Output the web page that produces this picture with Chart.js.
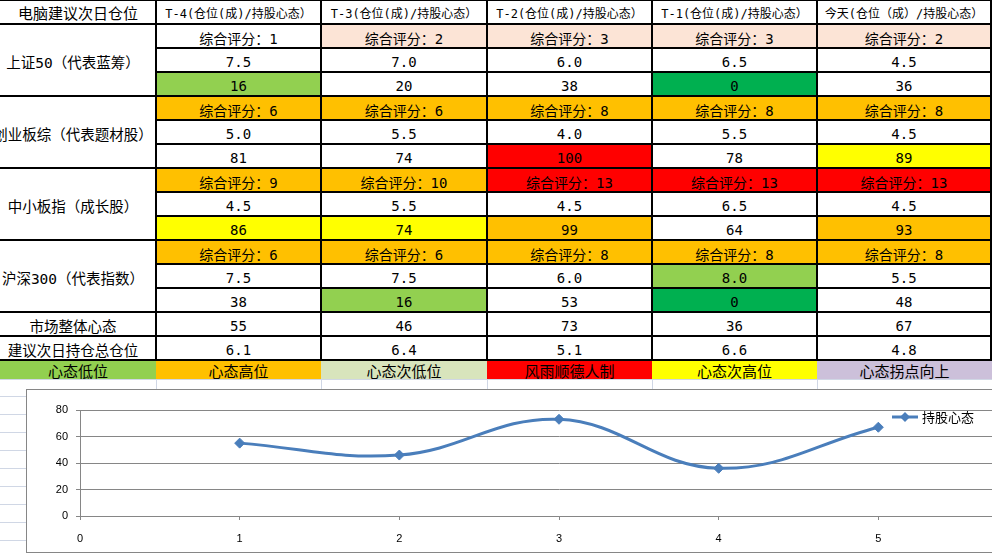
<!DOCTYPE html>
<html><head><meta charset="utf-8">
<script src="https://cdn.jsdelivr.net/npm/chart.js@4/dist/chart.umd.min.js"></script>
<style>
html,body{margin:0;padding:0;width:992px;height:553px;overflow:hidden;background:#fff;}
#sheet{position:absolute;left:0;top:0;width:992px;height:553px;overflow:hidden;}
.c{position:absolute;box-sizing:border-box;display:flex;align-items:center;justify-content:center;white-space:nowrap;overflow:hidden;
 font-family:"DejaVu Sans Mono","Noto Sans CJK SC",monospace;font-size:14px;color:#000;padding-top:3px;}
.hd{font-size:12px;padding-top:1px;}
.lab{font-size:14.5px;padding-right:10px;}
.lg{font-size:15px;padding-top:2px;}
.gl{position:absolute;background:#D0D7E5;}
.bl{position:absolute;background:#000;}
#chartBox{position:absolute;left:26px;top:389px;width:1100px;height:162px;border:1px solid #868686;border-right:none;background:#fff;}
#chartBox canvas{position:absolute;left:0;top:0;}
</style></head>
<body>
<div id="sheet"></div>
<div id="chartBox"><canvas id="cv" width="1023" height="162" style="width:1023px;height:162px"></canvas></div>
<script>
// ---- data ----
const cornerTitle='电脑建议次日仓位';
const columnHeaders=['T-4(仓位(成)/持股心态）','T-3(仓位(成)/持股心态）','T-2(仓位(成)/持股心态）','T-1(仓位(成)/持股心态）','今天(仓位（成）/持股心态）'];
const indexNames=['上证50（代表蓝筹）','创业板综（代表题材股）','中小板指（成长股）','沪深300（代表指数）'];
const scorePrefix='综合评分：';
const scores=[[1,2,3,3,2],[6,6,8,8,8],[9,10,13,13,13],[6,6,8,8,8]];
const positions=[['7.5','7.0','6.0','6.5','4.5'],['5.0','5.5','4.0','5.5','4.5'],['4.5','5.5','4.5','6.5','4.5'],['7.5','7.5','6.0','8.0','5.5']];
const moods=[[16,20,38,0,36],[81,74,100,78,89],[86,74,99,64,93],[38,16,53,0,48]];
const marketMoodLabel='市场整体心态';
const marketMood=[55,46,73,36,67];
const suggestLabel='建议次日持仓总仓位';
const suggestedPosition=['6.1','6.4','5.1','6.6','4.8'];
const legendLabels=['心态低位','心态高位','心态次低位','风雨顺德人制','心态次高位','心态拐点向上'];
const xPositions=[1,2,3,4,5];
const seriesName='持股心态';

// ---- styles ----
const W='#FFFFFF',PE='#FCE4D6',OR='#FFC000',RD='#FF0000',YE='#FFFF00',LG='#92D050',GR='#00B050',PG='#D8E4BC',LV='#CCC0DA';
const scoreFills=[[W,PE,PE,PE,PE],[OR,OR,OR,OR,OR],[OR,OR,RD,RD,RD],[OR,OR,OR,OR,OR]];
const posFills=[[W,W,W,W,W],[W,W,W,W,W],[W,W,W,W,W],[W,W,W,LG,W]];
const moodFills=[[LG,W,W,GR,W],[W,W,RD,W,YE],[YE,YE,OR,W,OR],[W,LG,W,GR,W]];
const legendFills=[LG,OR,PG,RD,YE,LV];
const colX=[0,156,321,487,652,817,991];
const rowH=24;

const sheet=document.getElementById('sheet');
function cell(x0,x1,y0,y1,text,bg,cls){
  const d=document.createElement('div');
  d.className='c'+(cls?' '+cls:'');
  d.style.left=x0+'px';d.style.top=y0+'px';d.style.width=(x1-x0)+'px';d.style.height=(y1-y0)+'px';
  if(bg)d.style.background=bg;
  d.textContent=text;sheet.appendChild(d);return d;
}
function line(cls,x,y,w,h){const d=document.createElement('div');d.className=cls;d.style.left=x+'px';d.style.top=y+'px';d.style.width=w+'px';d.style.height=h+'px';sheet.appendChild(d);}
// excel gridlines below table
line('gl',0,379,992,1);
for(let y=396;y<553;y+=18)line('gl',0,y,26,1);
for(let i=1;i<colX.length-1;i++)line('gl',colX[i],379,1,12);
line('gl',0,0,992,1);
// header
cell(0,colX[1],0,rowH,cornerTitle,W,'hd').style.fontSize='15px';
for(let j=0;j<5;j++)cell(colX[j+1],colX[j+2],0,rowH,columnHeaders[j],W,'hd');
// groups
for(let g=0;g<4;g++){
  const y0=rowH+g*3*rowH;
  cell(0,colX[1],y0,y0+3*rowH,indexNames[g],W,'lab');
  for(let j=0;j<5;j++){
    cell(colX[j+1],colX[j+2],y0,y0+rowH,scorePrefix+scores[g][j],scoreFills[g][j]);
    cell(colX[j+1],colX[j+2],y0+rowH,y0+2*rowH,positions[g][j],posFills[g][j]);
    cell(colX[j+1],colX[j+2],y0+2*rowH,y0+3*rowH,String(moods[g][j]),moodFills[g][j]);
  }
}
let yb=rowH*13;
cell(0,colX[1],yb,yb+rowH,marketMoodLabel,W,'lab');
for(let j=0;j<5;j++)cell(colX[j+1],colX[j+2],yb,yb+rowH,String(marketMood[j]),W);
yb+=rowH;
cell(0,colX[1],yb,yb+rowH,suggestLabel,W,'lab');
for(let j=0;j<5;j++)cell(colX[j+1],colX[j+2],yb,yb+rowH,suggestedPosition[j],W);
yb+=rowH;
for(let j=0;j<6;j++)cell(colX[j],j===5?992:colX[j+1],yb,379,legendLabels[j],legendFills[j],'lg');
// black cell borders on top
const tableBottom=rowH*15;
for(let i=1;i<colX.length;i++)line('bl',colX[i]-1,0,2,tableBottom);
for(let r=1;r<=15;r++){
  const y=r*rowH;
  const full=(r===1||(r-1)%3===0||r>=13);
  line('bl',full?0:colX[1],y-1,992,2);
}
line('bl',0,0,992,1);

// ---- chart ----
const legendPlugin={id:'sheetLegend',afterDraw(chart){
  const c=chart.ctx,ds=chart.data.datasets[0];
  const x=865,y=27;
  c.save();
  c.strokeStyle=ds.borderColor;c.lineWidth=3;
  c.beginPath();c.moveTo(x,y);c.lineTo(x+26,y);c.stroke();
  c.fillStyle=ds.borderColor;c.beginPath();
  const cx=x+13,r=5;c.moveTo(cx,y-r);c.lineTo(cx+r,y);c.lineTo(cx,y+r);c.lineTo(cx-r,y);c.closePath();c.fill();
  c.fillStyle='#000';c.font='13px "Noto Sans CJK SC"';c.textBaseline='middle';
  c.fillText(ds.label,x+30,y);
  c.restore();
}};
const tickFont={family:'"Liberation Sans", Arial, sans-serif',size:11};
new Chart(document.getElementById('cv'),{
  type:'line',
  data:{datasets:[{label:seriesName,data:xPositions.map((x,i)=>({x:x,y:marketMood[i]})),
    borderColor:'#4A7EBB',backgroundColor:'#4A7EBB',borderWidth:3,pointStyle:'rectRot',pointRadius:5,pointHoverRadius:5,
    pointBorderWidth:1,tension:0.4,fill:false}]},
  options:{responsive:false,animation:false,devicePixelRatio:1,
    layout:{padding:{top:20,left:0,right:0,bottom:0}},
    plugins:{legend:{display:false},tooltip:{enabled:false}},
    scales:{
      x:{type:'linear',min:0,max:6,
        ticks:{stepSize:1,padding:12,color:'#000',font:tickFont,maxRotation:0,callback:v=>v>5?'':v},
        grid:{drawOnChartArea:false,drawTicks:true,tickLength:4,color:'#868686'},
        border:{color:'#868686'},afterFit:s=>{s.height=36;}},
      y:{min:0,max:80,
        ticks:{stepSize:20,padding:8,color:'#000',font:tickFont},
        grid:{color:'#868686',tickLength:4},
        border:{color:'#868686'},afterFit:s=>{s.width=53;}}
    }},
  plugins:[legendPlugin]
});
</script>
</body></html>
